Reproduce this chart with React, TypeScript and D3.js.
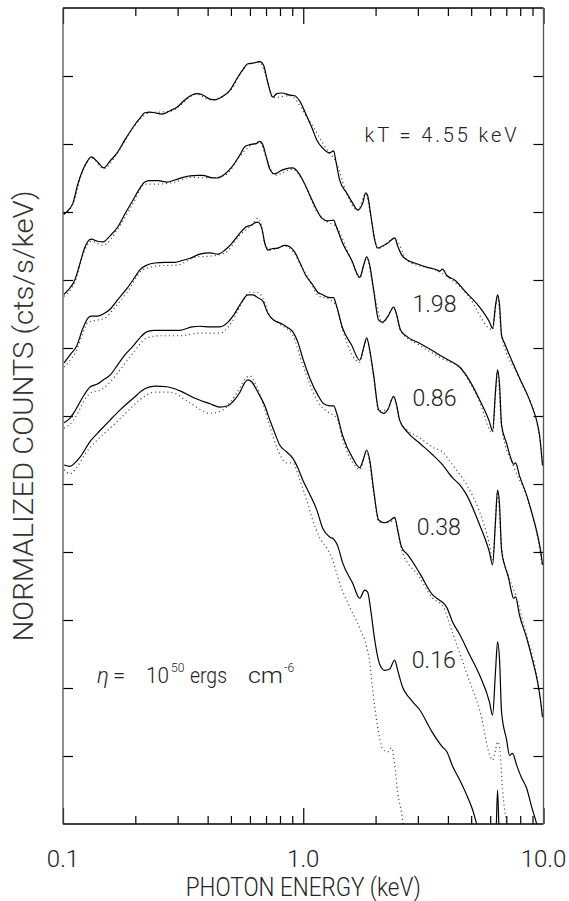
import { useEffect, useRef } from 'react'
import * as d3 from 'd3'

const W = 569
const H = 901
const MARGIN = { top: 8, right: 25.5, bottom: 77, left: 63 }

type Pt = [number, number]

// [photon energy keV, log10 normalized counts (decades, curves offset)]
const KT455_MODEL: Pt[] = [[0.100,8.99],[0.101,8.97],[0.104,9.01],[0.110,9.13],[0.115,9.40],[0.121,9.62],[0.127,9.76],[0.131,9.81],[0.139,9.74],[0.148,9.65],[0.157,9.75],[0.168,9.87],[0.181,10.06],[0.196,10.25],[0.209,10.38],[0.219,10.46],[0.230,10.47],[0.241,10.46],[0.258,10.44],[0.279,10.49],[0.298,10.54],[0.322,10.65],[0.344,10.72],[0.361,10.74],[0.382,10.72],[0.409,10.66],[0.429,10.65],[0.458,10.69],[0.495,10.79],[0.529,10.96],[0.560,11.09],[0.588,11.18],[0.617,11.19],[0.659,11.21],[0.685,11.15],[0.705,10.97],[0.726,10.79],[0.747,10.69],[0.776,10.74],[0.814,10.75],[0.879,10.72],[0.922,10.71],[0.967,10.63],[1.034,10.41],[1.095,10.21],[1.138,10.06],[1.205,9.94],[1.289,9.87],[1.339,9.90],[1.365,9.76],[1.418,9.47],[1.517,9.28],[1.606,9.13],[1.685,9.03],[1.768,9.13],[1.819,9.28],[1.854,9.24],[1.909,8.96],[1.983,8.59],[2.040,8.47],[2.140,8.50],[2.246,8.54],[2.402,8.62],[2.472,8.50],[2.567,8.37],[2.720,8.29],[2.908,8.25],[3.262,8.19],[3.590,8.15],[3.695,8.13],[3.802,8.16],[3.951,8.07],[4.265,8.00],[4.785,7.81],[5.419,7.60],[5.963,7.38],[6.137,7.29],[6.317,7.63],[6.439,7.78],[6.563,7.63],[6.690,7.19],[6.885,7.07],[7.433,6.79],[7.947,6.56],[8.501,6.34],[9.000,6.12],[9.353,5.94],[9.625,5.72],[9.904,5.28]]
const KT455_ALT: Pt[] = [[0.101,8.97],[0.110,9.12],[0.121,9.61],[0.131,9.80],[0.148,9.64],[0.168,9.86],[0.196,10.24],[0.230,10.46],[0.279,10.48],[0.361,10.73],[0.409,10.65],[0.495,10.78],[0.588,11.17],[0.659,11.20],[0.705,10.96],[0.747,10.68],[0.879,10.71],[1.034,10.40],[1.289,9.86],[1.365,9.75],[1.517,9.27],[1.685,9.02],[1.819,9.27],[1.909,8.95],[2.040,8.46],[2.402,8.61],[2.720,8.28],[3.695,8.12],[4.785,7.80],[6.137,7.27],[6.439,7.76],[6.690,7.18],[7.947,6.55],[9.625,5.71],[9.904,5.27]]

const KT198_MODEL: Pt[] = [[0.101,7.79],[0.105,7.85],[0.112,8.00],[0.118,8.26],[0.123,8.47],[0.131,8.60],[0.139,8.57],[0.147,8.56],[0.157,8.65],[0.169,8.78],[0.181,8.97],[0.196,9.18],[0.209,9.35],[0.219,9.44],[0.230,9.46],[0.248,9.46],[0.271,9.44],[0.292,9.47],[0.316,9.51],[0.338,9.53],[0.364,9.54],[0.382,9.54],[0.409,9.51],[0.437,9.50],[0.472,9.56],[0.504,9.66],[0.545,9.84],[0.571,9.96],[0.599,9.99],[0.641,10.01],[0.659,10.04],[0.679,9.99],[0.698,9.84],[0.726,9.63],[0.761,9.56],[0.799,9.60],[0.838,9.63],[0.904,9.65],[0.949,9.59],[0.995,9.47],[1.064,9.25],[1.138,9.03],[1.194,8.91],[1.264,8.87],[1.339,8.88],[1.365,8.81],[1.459,8.54],[1.591,8.29],[1.718,8.04],[1.785,8.22],[1.837,8.34],[1.891,8.22],[1.964,7.85],[2.060,7.41],[2.140,7.38],[2.246,7.46],[2.379,7.60],[2.448,7.49],[2.543,7.26],[2.720,7.16],[3.051,7.07],[3.455,6.96],[3.802,6.87],[4.184,6.79],[4.475,6.72],[4.785,6.59],[5.419,6.24],[5.963,5.91],[6.137,5.78],[6.317,6.38],[6.439,6.68],[6.563,6.46],[6.690,5.87],[7.018,5.60],[7.362,5.35],[7.504,5.29],[7.649,5.31],[7.947,5.12],[8.501,4.84],[9.000,4.54],[9.444,4.25],[9.716,4.03],[9.904,3.81]]
const KT198_ALT: Pt[] = [[0.101,7.76],[0.112,7.97],[0.123,8.44],[0.131,8.57],[0.147,8.51],[0.169,8.75],[0.196,9.13],[0.219,9.41],[0.248,9.41],[0.292,9.44],[0.338,9.51],[0.409,9.50],[0.472,9.54],[0.545,9.82],[0.599,9.97],[0.659,10.03],[0.698,9.82],[0.761,9.54],[0.904,9.63],[0.995,9.46],[1.138,9.01],[1.264,8.85],[1.365,8.79],[1.591,8.28],[1.718,8.03],[1.837,8.32],[1.964,7.84],[2.140,7.37],[2.379,7.59],[2.543,7.25],[3.051,7.04],[3.802,6.84],[4.475,6.71],[5.419,6.21],[6.137,5.75],[6.439,6.65],[6.690,5.84],[7.504,5.26],[8.501,4.82],[9.444,4.22],[9.904,3.78]]

const KT086_MODEL: Pt[] = [[0.101,6.78],[0.107,6.90],[0.114,7.03],[0.121,7.29],[0.127,7.44],[0.131,7.47],[0.139,7.47],[0.147,7.50],[0.157,7.57],[0.169,7.71],[0.185,7.88],[0.199,8.04],[0.209,8.15],[0.224,8.22],[0.241,8.25],[0.266,8.26],[0.292,8.26],[0.316,8.29],[0.338,8.32],[0.371,8.38],[0.409,8.40],[0.441,8.38],[0.472,8.44],[0.504,8.54],[0.545,8.69],[0.577,8.78],[0.611,8.81],[0.628,8.84],[0.647,8.85],[0.672,8.76],[0.692,8.54],[0.712,8.44],[0.740,8.46],[0.784,8.47],[0.838,8.51],[0.879,8.49],[0.922,8.41],[0.967,8.26],[1.024,8.07],[1.095,7.93],[1.149,7.82],[1.194,7.79],[1.289,7.74],[1.339,7.74],[1.365,7.66],[1.459,7.29],[1.591,7.04],[1.718,6.82],[1.785,7.01],[1.837,7.15],[1.891,6.97],[1.964,6.60],[2.060,6.09],[2.161,6.04],[2.246,6.09],[2.379,6.29],[2.448,6.16],[2.519,5.94],[2.720,5.76],[3.051,5.60],[3.455,5.43],[3.802,5.28],[4.184,5.09],[4.475,4.99],[4.785,4.84],[5.419,4.40],[5.963,3.99],[6.137,3.81],[6.317,4.47],[6.439,4.91],[6.563,4.69],[6.690,4.03],[6.885,3.81],[7.153,3.62],[7.362,3.41],[7.504,3.32],[7.649,3.34],[7.947,3.07],[8.501,2.74],[9.000,2.41],[9.444,2.09],[9.716,1.82],[9.904,1.57]]
const KT086_ALT: Pt[] = [[0.101,6.72],[0.107,6.82],[0.114,6.97],[0.121,7.22],[0.127,7.38],[0.139,7.41],[0.150,7.44],[0.161,7.56],[0.185,7.82],[0.215,8.15],[0.253,8.21],[0.298,8.22],[0.361,8.34],[0.409,8.35],[0.472,8.40],[0.545,8.66],[0.611,8.81],[0.647,8.91],[0.672,8.79],[0.692,8.54],[0.726,8.44],[0.838,8.50],[0.922,8.38],[0.986,8.19],[1.064,7.99],[1.149,7.78],[1.289,7.71],[1.365,7.63],[1.459,7.26],[1.718,6.79],[1.837,7.12],[1.964,6.57],[2.060,6.07],[2.246,6.10],[2.379,6.28],[2.519,5.93],[2.720,5.79],[3.051,5.68],[3.455,5.54],[3.802,5.47],[4.184,5.28],[4.785,4.99],[5.419,4.59],[5.963,4.10],[6.137,3.88],[6.439,4.88],[6.690,4.06],[7.153,3.65],[7.649,3.37],[8.501,2.78],[9.444,2.12],[9.904,1.60]]

const KT038_MODEL: Pt[] = [[0.101,5.90],[0.107,5.97],[0.112,6.07],[0.121,6.28],[0.130,6.43],[0.139,6.47],[0.147,6.53],[0.157,6.60],[0.168,6.74],[0.181,6.90],[0.196,7.03],[0.209,7.15],[0.224,7.24],[0.241,7.26],[0.266,7.26],[0.307,7.26],[0.344,7.31],[0.371,7.32],[0.409,7.31],[0.450,7.31],[0.486,7.38],[0.519,7.51],[0.555,7.68],[0.588,7.78],[0.617,7.78],[0.647,7.74],[0.679,7.69],[0.712,7.51],[0.761,7.40],[0.799,7.37],[0.854,7.31],[0.904,7.24],[0.949,7.09],[0.995,6.85],[1.064,6.56],[1.149,6.31],[1.217,6.18],[1.289,6.15],[1.339,6.15],[1.378,6.04],[1.459,5.71],[1.606,5.38],[1.718,5.24],[1.785,5.38],[1.837,5.50],[1.891,5.35],[1.964,4.91],[2.060,4.47],[2.182,4.43],[2.289,4.46],[2.402,4.51],[2.472,4.32],[2.567,4.07],[2.720,3.96],[3.051,3.69],[3.455,3.37],[3.695,3.29],[3.802,3.26],[3.951,3.19],[4.184,2.97],[4.475,2.79],[4.924,2.49],[5.419,2.19],[5.963,1.79],[6.137,1.60],[6.317,2.26],[6.439,2.68],[6.563,2.41],[6.690,1.65],[7.018,1.24],[7.222,1.01],[7.433,1.04],[7.722,0.87],[8.101,0.68],[8.501,0.53],[8.914,0.26],[9.353,0.01],[9.625,-0.16]]
const KT038_ALT: Pt[] = [[0.101,5.82],[0.107,5.88],[0.114,6.01],[0.123,6.24],[0.132,6.35],[0.143,6.38],[0.157,6.50],[0.173,6.68],[0.196,6.93],[0.224,7.15],[0.253,7.18],[0.307,7.18],[0.371,7.22],[0.450,7.22],[0.504,7.38],[0.555,7.66],[0.599,7.82],[0.641,7.82],[0.679,7.74],[0.726,7.47],[0.799,7.35],[0.904,7.19],[0.986,6.79],[1.064,6.47],[1.149,6.21],[1.264,6.06],[1.378,5.97],[1.459,5.65],[1.606,5.32],[1.718,5.21],[1.837,5.47],[1.964,4.88],[2.060,4.44],[2.289,4.43],[2.402,4.49],[2.567,4.03],[3.051,3.63],[3.455,3.32],[3.802,3.21],[4.184,2.81],[4.785,2.22],[5.419,1.68],[6.137,0.94],[6.317,1.09],[6.439,1.21],[6.563,1.13],[6.754,0.50],[7.018,0.01],[7.222,-0.31]]

const KT016_MODEL: Pt[] = [[0.101,5.28],[0.107,5.26],[0.112,5.31],[0.118,5.40],[0.130,5.63],[0.143,5.79],[0.157,5.94],[0.173,6.09],[0.196,6.26],[0.219,6.40],[0.241,6.44],[0.271,6.43],[0.307,6.37],[0.354,6.26],[0.409,6.18],[0.450,6.13],[0.486,6.15],[0.509,6.21],[0.545,6.35],[0.571,6.49],[0.588,6.53],[0.611,6.50],[0.647,6.35],[0.692,6.15],[0.726,5.94],[0.761,5.75],[0.799,5.57],[0.854,5.47],[0.904,5.38],[0.949,5.24],[0.995,5.06],[1.064,4.85],[1.138,4.62],[1.205,4.35],[1.289,4.22],[1.339,4.19],[1.391,4.09],[1.459,3.84],[1.606,3.54],[1.718,3.32],[1.802,3.44],[1.854,3.41],[1.909,3.15],[1.983,2.71],[2.080,2.35],[2.182,2.26],[2.289,2.28],[2.402,2.41],[2.472,2.26],[2.592,2.01],[2.772,1.85],[3.051,1.68],[3.455,1.34],[3.802,1.13],[3.951,1.07],[4.184,0.85],[4.475,0.65],[4.785,0.43],[5.068,0.21],[5.265,0.01],[5.794,-0.38],[6.317,-0.31],[6.439,0.50],[6.563,-0.31],[7.018,-0.68]]
const KT016_ALT: Pt[] = [[0.101,5.21],[0.107,5.15],[0.114,5.24],[0.123,5.43],[0.139,5.65],[0.157,5.82],[0.181,6.03],[0.209,6.24],[0.241,6.35],[0.279,6.35],[0.338,6.19],[0.409,6.04],[0.463,6.09],[0.529,6.34],[0.582,6.57],[0.599,6.59],[0.641,6.43],[0.679,6.19],[0.726,5.84],[0.776,5.54],[0.854,5.31],[0.904,5.31],[0.967,5.06],[1.034,4.76],[1.095,4.47],[1.171,4.21],[1.252,4.06],[1.326,3.88],[1.418,3.54],[1.561,3.19],[1.718,2.88],[1.837,2.60],[1.891,2.38],[1.946,1.97],[2.040,1.43],[2.140,1.10],[2.246,1.06],[2.333,1.12],[2.402,0.87],[2.472,0.46],[2.567,0.16],[2.642,-0.16]]

const SOLID_SERIES = [KT455_MODEL, KT198_MODEL, KT086_MODEL, KT038_MODEL, KT016_MODEL]
const DOTTED_SERIES = [KT455_ALT, KT198_ALT, KT086_ALT, KT038_ALT, KT016_ALT]

const X_MAJOR = [0.1, 1, 10]
const X_MAJOR_LABELS = ['0.1', '1.0', '10.0']
const X_MINOR = [0.2, 0.3, 0.4, 0.5, 0.6, 0.7, 0.8, 0.9, 2, 3, 4, 5, 6, 7, 8, 9]
const Y_DECADES = [1, 2, 3, 4, 5, 6, 7, 8, 9, 10, 11]

const CURVE_LABELS = ['kT = 4.55 keV', '1.98', '0.86', '0.38', '0.16']
const CURVE_LABEL_AT: Pt[] = [[1.80, 10.03], [2.85, 7.53], [2.85, 6.15], [2.97, 4.25], [2.83, 2.29]]
const ETA_AT: Pt = [0.1385, 2.07]

const FONT = "Roboto, 'DejaVu Sans', sans-serif"

export default function App() {
  const svgRef = useRef<SVGSVGElement | null>(null)

  useEffect(() => {
    const el = svgRef.current
    if (!el) return
    const svg = d3.select(el)
    svg.selectAll('*').remove()

    const x = d3.scaleLog().domain([0.1, 10]).range([MARGIN.left, W - MARGIN.right])
    const y = d3.scaleLinear().domain([0, 12]).range([H - MARGIN.bottom, MARGIN.top])
    const [x0, x1] = x.range()
    const [y0, y1] = y.range()

    svg.append('rect').attr('width', W).attr('height', H).attr('fill', '#fff')

    svg.append('defs').append('clipPath').attr('id', 'plot-clip')
      .append('rect')
      .attr('x', x0).attr('y', y1)
      .attr('width', x1 - x0).attr('height', y0 - y1)

    const line = d3.line<Pt>()
      .x(d => x(d[0]))
      .y(d => y(d[1]))
      .curve(d3.curveMonotoneX)

    const plot = svg.append('g').attr('clip-path', 'url(#plot-clip)')

    // dotted series first, solid drawn over them
    DOTTED_SERIES.forEach(s => {
      plot.append('path')
        .datum(s)
        .attr('fill', 'none')
        .attr('stroke', '#444')
        .attr('stroke-width', 1.2)
        .attr('stroke-dasharray', '1.1 3')
        .attr('d', line)
    })
    SOLID_SERIES.forEach(s => {
      plot.append('path')
        .datum(s)
        .attr('fill', 'none')
        .attr('stroke', '#000')
        .attr('stroke-width', 1.2)
        .attr('stroke-linejoin', 'round')
        .attr('d', line)
    })

    // ticks (inward on all four sides)
    const styleAxis = (g: d3.Selection<SVGGElement, unknown, null, undefined>) => {
      g.select('.domain').remove()
      g.selectAll('line').attr('stroke', '#000').attr('stroke-width', 1.2)
      g.selectAll('text').remove()
    }
    svg.append('g').attr('transform', `translate(0,${y0})`)
      .call(d3.axisBottom(x).tickValues(X_MINOR).tickSize(-8)).call(styleAxis)
    svg.append('g').attr('transform', `translate(0,${y0})`)
      .call(d3.axisBottom(x).tickValues(X_MAJOR).tickSize(-16)).call(styleAxis)
    svg.append('g').attr('transform', `translate(0,${y1})`)
      .call(d3.axisTop(x).tickValues(X_MINOR).tickSize(-8)).call(styleAxis)
    svg.append('g').attr('transform', `translate(0,${y1})`)
      .call(d3.axisTop(x).tickValues(X_MAJOR).tickSize(-16)).call(styleAxis)
    svg.append('g').attr('transform', `translate(${x0},0)`)
      .call(d3.axisLeft(y).tickValues(Y_DECADES).tickSize(-10)).call(styleAxis)
    svg.append('g').attr('transform', `translate(${x1},0)`)
      .call(d3.axisRight(y).tickValues(Y_DECADES).tickSize(-10)).call(styleAxis)

    // frame
    svg.append('line').attr('x1', x0).attr('x2', x1).attr('y1', y1).attr('y2', y1)
      .attr('stroke', '#000').attr('stroke-width', 1.5)
    svg.append('line').attr('x1', x0).attr('x2', x1).attr('y1', y0).attr('y2', y0)
      .attr('stroke', '#000').attr('stroke-width', 1.5)
    svg.append('line').attr('x1', x0).attr('x2', x0).attr('y1', y1).attr('y2', y0)
      .attr('stroke', '#555').attr('stroke-width', 1.3)
    svg.append('line').attr('x1', x1).attr('x2', x1).attr('y1', y1).attr('y2', y0)
      .attr('stroke', '#555').attr('stroke-width', 1.3)

    const txt = (sel: d3.Selection<SVGTextElement, unknown, null, undefined>, size: number) =>
      sel.attr('font-family', FONT).attr('font-weight', 300).attr('font-size', size).attr('fill', '#222')

    // x tick labels
    X_MAJOR.forEach((v, i) => {
      const t = svg.append('text')
        .attr('x', x(v)).attr('y', y0 + 43)
        .attr('text-anchor', 'middle')
        .text(X_MAJOR_LABELS[i])
      txt(t, 24)
    })

    // axis titles
    txt(svg.append('text')
      .attr('x', (x0 + x1) / 2).attr('y', y0 + 72)
      .attr('text-anchor', 'middle')
      .attr('textLength', 235).attr('lengthAdjust', 'spacingAndGlyphs')
      .text('PHOTON ENERGY (keV)'), 26)

    txt(svg.append('text')
      .attr('transform', `translate(33,${(y0 + y1) / 2}) rotate(-90)`)
      .attr('text-anchor', 'middle')
      .attr('textLength', 451).attr('lengthAdjust', 'spacingAndGlyphs')
      .text('NORMALIZED COUNTS (cts/s/keV)'), 28)
      .attr('fill', '#333')

    // curve labels
    CURVE_LABELS.forEach((s, i) => {
      const [e, v] = CURVE_LABEL_AT[i]
      const t = svg.append('text')
        .attr('x', x(e)).attr('y', y(v))
        .attr('textLength', i === 0 ? 152 : 44)
        .attr('lengthAdjust', i === 0 ? 'spacing' : 'spacingAndGlyphs')
        .text(s)
      txt(t, i === 0 ? 20 : 24)
    })

    // eta annotation
    const ex = x(ETA_AT[0])
    const ey = y(ETA_AT[1])
    const eta = svg.append('g').attr('transform', `translate(${ex},${ey})`)
    txt(eta.append('text').attr('x', 0).attr('font-style', 'italic').text('η'), 22)
    txt(eta.append('text').attr('x', 16).text('='), 22)
    txt(eta.append('text').attr('x', 49).attr('textLength', 23).attr('lengthAdjust', 'spacingAndGlyphs').text('10'), 22)
    txt(eta.append('text').attr('x', 74).attr('y', -11).text('50'), 12)
    txt(eta.append('text').attr('x', 93).attr('textLength', 37).attr('lengthAdjust', 'spacingAndGlyphs').text('ergs'), 22)
    txt(eta.append('text').attr('x', 151).attr('textLength', 35).attr('lengthAdjust', 'spacingAndGlyphs').text('cm'), 22)
    txt(eta.append('text').attr('x', 187).attr('y', -11).text('-6'), 12)
  }, [])

  return (
    <svg
      ref={svgRef}
      width={W}
      height={H}
      style={{ position: 'absolute', left: 0, top: 0, display: 'block' }}
    />
  )
}
